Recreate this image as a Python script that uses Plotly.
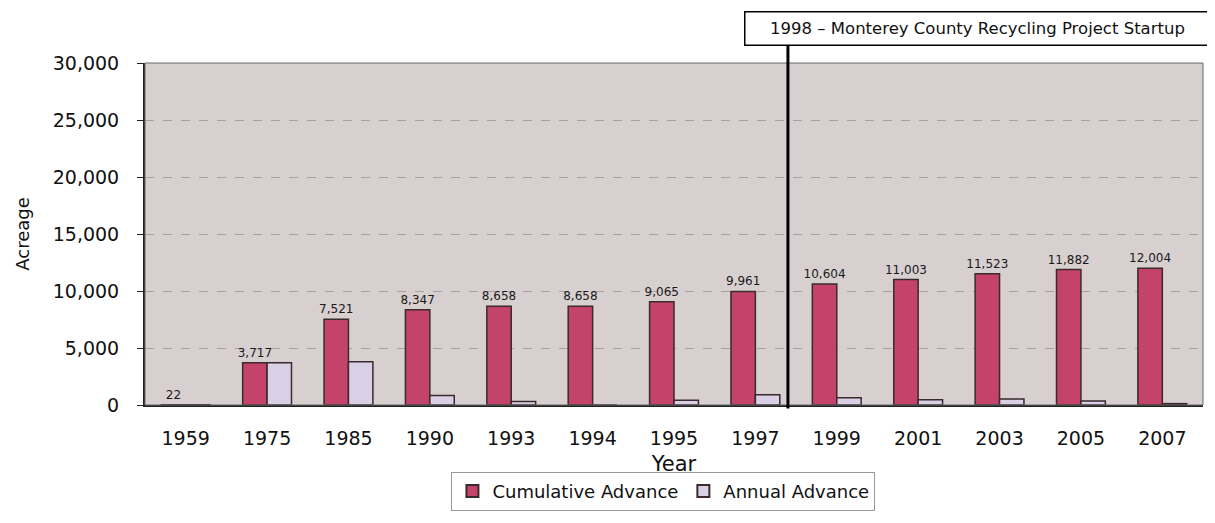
import plotly.graph_objects as go

years = ["1959", "1975", "1985", "1990", "1993", "1994", "1995", "1997",
         "1999", "2001", "2003", "2005", "2007"]
cumulative = [22, 3717, 7521, 8347, 8658, 8658, 9065, 9961,
              10604, 11003, 11523, 11882, 12004]
annual = [22, 3717, 3804, 826, 311, 0, 407, 896, 643, 450, 520, 359, 122]
cum_labels = ["22", "3,717", "7,521", "8,347", "8,658", "8,658", "9,065",
              "9,961", "10,604", "11,003", "11,523", "11,882", "12,004"]
y_ticks = [0, 5000, 10000, 15000, 20000, 25000, 30000]
y_ticktext = ["0", "5,000", "10,000", "15,000", "20,000", "25,000", "30,000"]
startup_text = "1998 – Monterey County Recycling Project Startup"

font_family = "DejaVu Sans, Liberation Sans, Arial, sans-serif"

fig = go.Figure()
fig.add_trace(go.Bar(
    name="Cumulative Advance", x=years, y=cumulative,
    marker=dict(color="#c4436b", line=dict(color="#3a2a2e", width=1.5)),
    text=cum_labels, textposition="outside", constraintext="none",
    textfont=dict(size=12, color="#1a1a1a", family=font_family),
    cliponaxis=False,
))
fig.add_trace(go.Bar(
    name="Annual Advance", x=years, y=annual,
    marker=dict(color="#d9d0e6", line=dict(color="#3a2a2e", width=1.5)),
))

# light frame around the plot area
fig.add_shape(type="rect", xref="paper", yref="paper", x0=0, x1=1, y0=0, y1=1,
              line=dict(color="#666", width=1), layer="above")

fig.add_shape(type="line", xref="x", yref="paper", x0=7.4, x1=7.4,
              y0=-0.01, y1=1.053, line=dict(color="black", width=3))

fig.add_annotation(xref="paper", yref="paper", x=0.787, y=1.101,
                   text=startup_text, showarrow=False,
                   font=dict(size=16.5, color="#111", family=font_family),
                   bordercolor="black", borderwidth=1.5, bgcolor="white",
                   width=462, height=30, xanchor="center", yanchor="middle")

fig.update_layout(
    width=1207, height=515,
    margin=dict(l=137, r=12, t=55, b=118, autoexpand=False),
    paper_bgcolor="white", plot_bgcolor="#d8cfd0",
    barmode="group", bargap=0.4, bargroupgap=0.0,
    font=dict(family=font_family, color="#111"),
    showlegend=True,
    legend=dict(orientation="h", x=0.49, y=-0.252, xanchor="center",
                yanchor="middle", font=dict(size=18),
                bordercolor="#999", borderwidth=1, bgcolor="white",
                itemsizing="constant", tracegroupgap=0),
    xaxis=dict(title=dict(text="Year", font=dict(size=21), standoff=9),
               automargin=False,
               tickfont=dict(size=19), showline=True, linecolor="#222",
               linewidth=2, ticks="outside", ticklen=15,
               tickcolor="rgba(0,0,0,0)", showgrid=False),
    yaxis=dict(title=dict(text="Acreage", font=dict(size=18), standoff=18),
               automargin=False,
               range=[0, 30000], tickvals=y_ticks, ticktext=y_ticktext,
               tickfont=dict(size=19), showline=True, linecolor="#222",
               linewidth=2, ticks="outside", ticklen=6, tickcolor="#222",
               ticklabelstandoff=14,
               showgrid=True, gridcolor="#a8a0a0", griddash="dash",
               gridwidth=1, zeroline=False),
)

fig.write_html("out.html")
